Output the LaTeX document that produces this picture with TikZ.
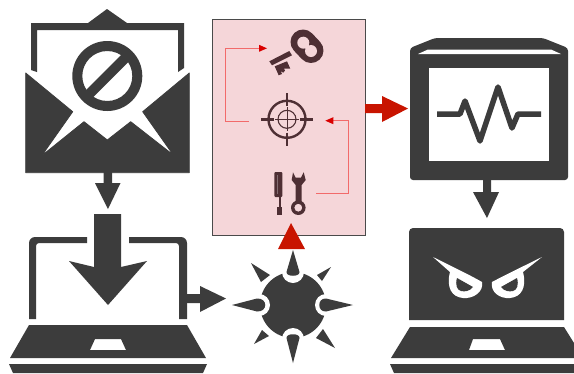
\documentclass[tikz,border=0pt]{standalone}
\usetikzlibrary{arrows.meta}
\definecolor{ink}{HTML}{3C3C3C}
\definecolor{pinkbox}{HTML}{F5D6D9}
\definecolor{boxline}{HTML}{4A4A4A}
\definecolor{alert}{HTML}{C81400}
\definecolor{thinred}{HTML}{F26A6A}
\definecolor{iconink}{HTML}{4E2F34}
\tikzset{
  solid ink/.style={fill=ink,draw=none},
  soft ink/.style={fill=ink,draw=ink,line width=0.8pt,line join=round},
  alert fill/.style={fill=alert,draw=none},
  icon/.style={fill=iconink,draw=none},
  icon line/.style={draw=iconink,line cap=butt},
  hole/.style={fill=white,draw=none},
  link/.style={draw=thinred,line width=0.7pt,-{Triangle[length=8pt,width=7pt,fill=red!85!black,line width=0pt]}},
}
\begin{document}
\begin{tikzpicture}[x=1pt,y=-1pt]
\useasboundingbox (0,0) rectangle (574,373);
\fill[white] (0,0) rectangle (574,373);
% ---------- envelope
\fill[solid ink] (31,70) -- (31,23) -- (88,23) -- (107,9) -- (127,23) -- (184,23) -- (184,68) -- (178,72) -- (178,30) -- (37,30) -- (37,72) -- cycle;
\path[soft ink] (25.7,73) -- (72.7,111.7) -- (41.7,155.7) -- (84,121.7) -- (107.3,140) -- (130.7,121.7) -- (173.3,155) -- (142.7,111.7) -- (189.3,73) -- (189.3,172.7) -- (25.7,172.7) -- cycle;
\fill[solid ink,even odd rule] (107.3,76) circle[radius=35] (107.3,76) circle[radius=25];
\draw[ink,line width=10pt] (88,95.3) -- (126.6,56.7);
% arrow envelope -> laptop
\fill[solid ink] (103.5,172) -- (112,172) -- (112,183) -- (120.5,183) -- (108,209) -- (95,183) -- (103.5,183) -- cycle;
% ---------- laptop 1
\fill[solid ink] (29,319) -- (29,243) arc[start angle=180,end angle=270,radius=6] -- (87,237) -- (87,243) -- (39,243) arc[start angle=270,end angle=180,radius=3] -- (36,319) -- cycle;
\fill[solid ink] (129,237) -- (181,237) arc[start angle=270,end angle=360,radius=6] -- (187,319) -- (179,319) -- (179,246) arc[start angle=0,end angle=-90,radius=3] -- (129,243) -- cycle;
\fill[solid ink] (94,214) -- (121,214) -- (121,267) -- (147,261) -- (108,305) -- (69,261) -- (94,267) -- cycle;
\fill[solid ink] (187,294) -- (200,294) -- (200,286) -- (226,298.5) -- (200,312) -- (200,303) -- (187,303) -- cycle;
\fill[solid ink,even odd rule] (29,325) -- (187,325) -- (206,358) -- (10,358) -- cycle (95,339) -- (121,339) -- (126,350) -- (90,350) -- cycle;
\fill[solid ink] (9,364) -- (207,364) -- (203,373) -- (13,373) -- cycle;
% ---------- pink panel
\node[draw=boxline,fill=pinkbox,line width=0.9pt,minimum width=153pt,minimum height=216pt,inner sep=0pt,anchor=north west] (panel) at (212,19) {};
% key
\draw[iconink,line width=25pt,line cap=round] (303,42) -- (311,50.5);
\fill[pinkbox] (303.3,42.7) circle[radius=6] (311,51) circle[radius=6];
\fill[icon] (269.3,61.3) -- (289.3,51) -- (292,55.3) -- (272,65.3) -- cycle;
\fill[icon] (274.7,66.3) -- (278.7,75.3) -- (282,74) -- (280.7,71) -- (283.3,72.7) -- (285,70.5) -- (284,68.5) -- (290.3,68.7) -- (287,61.3) -- cycle;
% target
\coordinate (tc) at (287,119.3);
\draw[icon line,line width=2.4pt] (tc) circle[radius=18.5];
\draw[icon line,line width=1.1pt] (tc) circle[radius=9];
\draw[icon line,line width=2.4pt] (261,119.3) -- (274,119.3) (300,119.3) -- (313,119.3) (287,93) -- (287,106) (287,132.5) -- (287,145.5);
\draw[icon line,line width=0.9pt] (275,119.3) -- (299,119.3) (287,107.3) -- (287,131.3);
% tools
\fill[icon,rounded corners=1pt] (274.3,172) rectangle (282.3,197);
\draw[iconink!70!white,line width=0.8pt] (277.5,175) -- (277.5,194);
\fill[icon] (278.7,197) rectangle (281.3,207);
\fill[icon] (277.3,207) rectangle (282.3,215);
\fill[icon] (293,172.3) -- (295.7,177.7) -- (301,177.7) -- (303.7,172.3) -- (305.7,180) -- (301.7,185) -- (301.7,202) -- (295.7,202) -- (295.7,185) -- (291.7,180) -- cycle;
\fill[icon,even odd rule] (298.3,207.7) circle[radius=7.3] (298.3,207.7) circle[radius=4];
% thin red connectors
\coordinate (keyin) at (267,48.3);
\coordinate (targetout) at (248.7,121);
\coordinate (targetin) at (325.3,120.7);
\coordinate (toolsout) at (316,193);
\draw[link] (targetout) -- (225.7,121) -- (225.7,48.3) -- (keyin);
\draw[link] (toolsout) -- (348,193) -- (348,120.7) -- (targetin);
% ---------- red arrows
\fill[alert fill] (278,249) -- (291,223) -- (305,249) -- cycle;
\fill[alert fill] (365,104) -- (382,104) -- (382,96) -- (408,108.5) -- (382,122) -- (382,113) -- (365,113) -- cycle;
% ---------- spike ball
\fill[solid ink] (293,305) circle[radius=33];
\fill[hole] (293,272) circle[radius=11] (293,339) circle[radius=11] (259,305) circle[radius=11] (326,305) circle[radius=11];
\fill[solid ink] (293,250) -- (299.5,272) .. controls (300,277) and (286,277) .. (286.5,272) -- cycle;
\fill[solid ink] (293,363) -- (286.5,338) .. controls (286,333) and (300,333) .. (299.5,338) -- cycle;
\fill[solid ink] (232,305) -- (257,298.5) .. controls (268,298) and (268,312) .. (257,311.5) -- cycle;
\fill[solid ink] (353,305) -- (326,298.5) .. controls (317,298) and (317,312) .. (326,311.5) -- cycle;
\fill[solid ink] (251,263) -- (270,275) -- (261,282) -- cycle;
\fill[solid ink] (331,267) -- (317,275) -- (322,281) -- cycle;
\fill[solid ink] (254,344) -- (262,330) -- (269,336) -- cycle;
\fill[solid ink] (335,348) -- (316,338) -- (323,329) -- cycle;
% ---------- monitor
\fill[solid ink,rounded corners=3pt] (410,48) -- (435,38) -- (543,38) -- (568,48) -- (568,180) -- (410,180) -- cycle;
\fill[hole] (418,54) -- (428,49.5) -- (551,49.5) -- (561,54) -- cycle;
\fill[hole] (429,68) rectangle (549,161);
\draw[ink,line width=5.5pt,line join=round,line cap=butt] (437,114) -- (460,114) -- (465,101) -- (480,141) -- (498,87) -- (512,128) -- (518,114) -- (541,114);
\fill[solid ink] (483,180) -- (491,180) -- (491,192) -- (499,192) -- (487,218) -- (473,192) -- (483,192) -- cycle;
% ---------- laptop 2
\fill[solid ink] (409,320) [rounded corners=4pt] -- (409,228) -- (564,228) [sharp corners] -- (564,320) -- cycle;
\fill[hole] (433,257) .. controls (445,263) and (470,275) .. (482,282) .. controls (484,292) and (473,299) .. (463,298) .. controls (452,297) and (446,288) .. (450,272) -- cycle;
\fill[solid ink] (457,278) -- (473,287) .. controls (470,291) and (465,292) .. (461,291) .. controls (457,290) and (455,285) .. (457,278) -- cycle;
\fill[hole] (542,257) .. controls (530,263) and (505,275) .. (492,282) .. controls (490,292) and (500,299) .. (510,298) .. controls (521,297) and (527,288) .. (523,272) -- cycle;
\fill[solid ink] (517,278) -- (501,287) .. controls (504,291) and (509,292) .. (513,291) .. controls (517,290) and (519,285) .. (517,278) -- cycle;
\fill[solid ink,even odd rule] (410,327) -- (564,327) -- (574,343) -- (574,358) -- (391,358) -- cycle (473,339) -- (500,339) -- (505,350) -- (469,350) -- cycle;
\fill[solid ink] (390,364) -- (574,364) -- (574,373) -- (394,373) -- cycle;
\end{tikzpicture}
\end{document}
